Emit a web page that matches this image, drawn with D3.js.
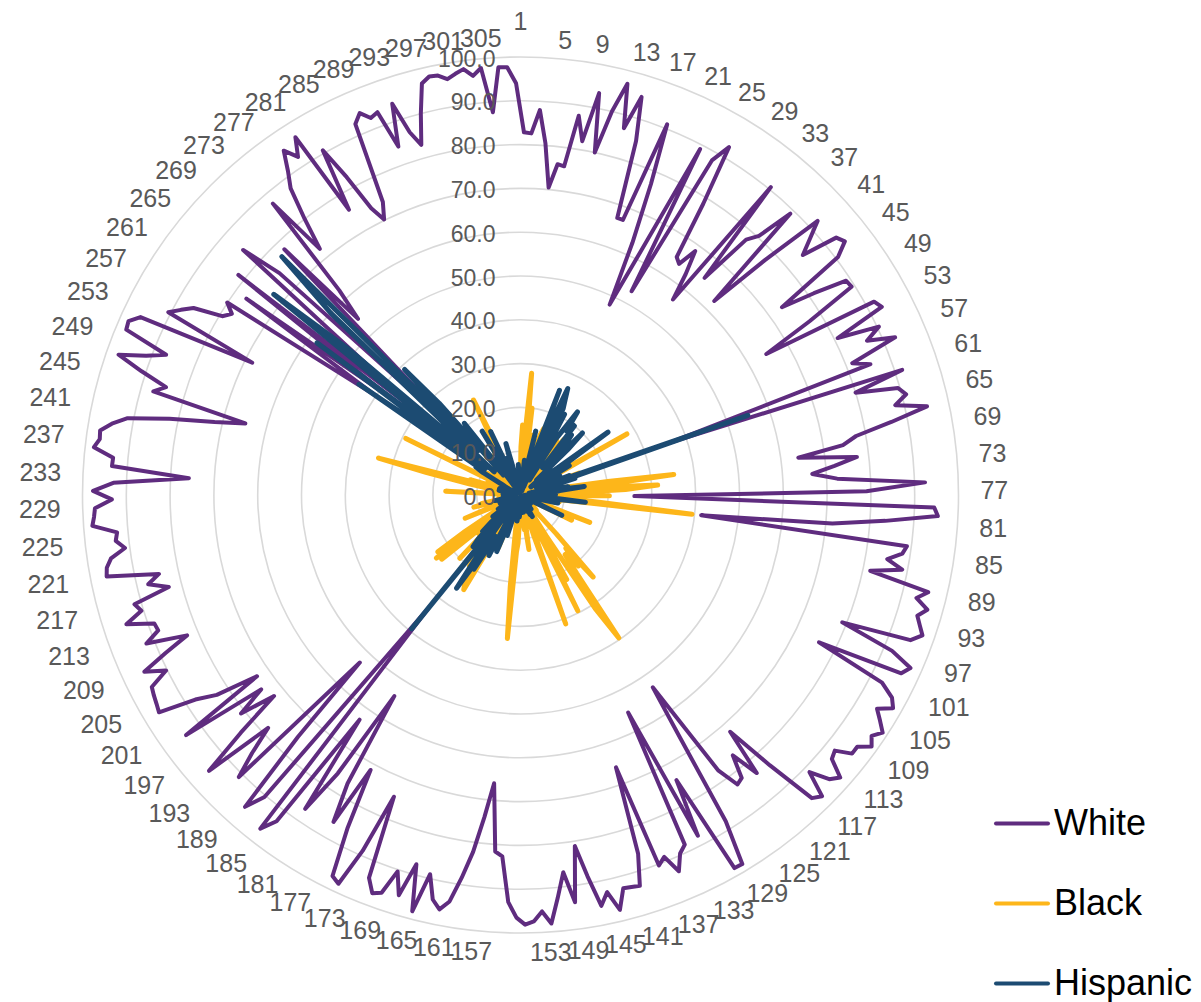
<!DOCTYPE html>
<html>
<head>
<meta charset="utf-8">
<script src="https://cdnjs.cloudflare.com/ajax/libs/d3/7.8.5/d3.min.js"></script>
<style>
  html, body { margin: 0; padding: 0; background: #fff; }
  svg { display: block; font-family: "Liberation Sans", Arial, sans-serif; }
</style>
</head>
<body>
<main></main>
<script>
const white = [
  82.8,82.6,88,80.5,70.5,76,75.7,87.6,82,93.5,
  80,90,97,87,95,85,67,67,91,77,
  63,48,62,89,53,88,92.6,78.5,65,64,
  68.5,63,56.6,90.6,65,77.8,80.4,89,62.6,77.4,
  92.3,88.3,84.6,93,94,90.6,73.5,81.3,89,89.3,
  77,64.7,92,93,80.8,90.4,86.6,92.8,81.5,85.3,
  36,91.7,80,89.6,91,88,95,86.3,77.8,74.5,
  64,77.3,72,66.8,72.4,92.4,79,26,94.5,95.4,
  83.5,71.5,41.5,89,88.2,85,88.8,81.7,95.7,93.4,
  96.5,94.7,95.9,97.2,95,79,92,97.4,96,76,
  93,96.6,98,94.9,96.9,98.9,97.2,98.6,96,96,
  92.5,93.2,97.4,95.8,91.4,97.3,96,84,72.2,83.3,
  76.7,82,82.6,77.5,53.3,66,88,98.3,98.2,74.2,
  87.7,55.4,88.2,89.6,93.2,88.9,90.3,65.9,86.2,93.3,
  93,92.8,97.4,92.8,95.6,88.4,81.1,93.8,86.7,92.3,
  98.1,95.2,97.4,98.1,96.5,93,82.6,81.6,66.1,74,
  82.2,88.4,94.2,96.4,94.5,89,98.2,87.6,95.5,90.4,
  96.2,97,94,74.7,88.9,98,97,85.8,71.5,86,
  76.8,54.2,76,86.9,63.1,93,96.6,33,90.4,95,
  75,53,91,85,78.4,95,83.8,72.6,81,74,
  94,73,83,87.7,96.3,95.8,95.4,94.9,90.3,94.9,
  88.7,82.6,91.9,88.3,88.6,94.7,90.5,91.6,83,87.4,
  84.5,96.3,95.9,94.6,91.1,93,92.5,98,97.5,97.2,
  93.3,97.6,93,75.8,93.5,93.4,98,96.9,97.1,94.7,
  91.4,82,71.8,64.9,87.1,84.6,91,97.2,91.2,87,
  97.6,97.9,95.8,68.3,90.6,88.3,86,79.4,77.8,80.1,
  40,77,38,81.7,25,45,84.5,74.8,30,20,
  77.8,54.7,62.4,87.3,72.5,80,87.5,91,95.4,92.4,
  96.5,76,90.7,82.7,73.8,70.2,73.9,92.7,94.6,92.6,
  93.3,84.3,94,86.6,83.1,90,96.6,97.8,97.6,96.4,
  97.3,98.1,96.3,97.9,87.6,97.8,97.7,94
];
const black = [
  11,16,6,13,27.9,14,20,9,12,4,
  14,4,1,7,3,14.4,16,6,5,8,
  8,13,14,3,14,3,3,7,15,11,
  10,13,16,2,14,4,6,3,14,7,
  2,2,5,2,2,2,1,5,3,3,
  8,28,2,2,7,3,3,2,5,14.3,
  8,2,6,3,3,4,2,6,10,20.2,
  35.3,14,20,31.4,24,4,12,20.3,2,2,
  9,18,39.4,5,7,9,6,8,2,4,
  2,2,2,1,2,17,5,1,2,13,
  2,2,1,2,1,0.5,1,0.5,2,1,
  4,3,1,2,5,1,2,12,25,16,
  20.9,17,17,22,39.6,31,11,1,1,22,
  9,29.5,8,7,5,7,6,31.2,10,4,
  4,5,1,4,2,7,12.6,4,8,5,
  1,3,1,1,2,4,11,13,32.9,21,
  10,6,2,2,3,5,1,6,2,2,
  2,2,2,13,4,1,1,1,13,5,
  25.2,24,12,5,20,4,2,20,3,2,
  7,20,4,6,13,2,8,23.2,20,24,
  8,22.9,15,6,1,2,2,2,5,2,
  6,13.7,4,7,6,3,5,5,11,7,
  9,2,2,3,5,3,3,1,1,1,
  3,1,3,17.1,3,3,1,2,2,3,
  5,12,22,33.5,8,12,5,1,5,8,
  1,1,2,29.2,5,7,8,10,10,9,
  5,8,3,7,2,3,7,9,6,2,
  7,4,9,6,8,1,5,3,2,3,
  1,7,3,6,13,24.2,9,4,3,4,
  3,6,3,6,5,5,2,1,1,2,
  1,1,2,1,4,1,1,3
];
const hispanic = [
  5,1,3,5,1,8,3,2,4,1,
  5,15,1,4,1,1,12,25.5,2,16,
  26.6,24,22,9,21,10,4,15,18,23,
  18,20,20,8,18,16,14,9,20,15,
  5,8,9,4,3,6,24.6,12,7,6,
  13,6,5,4,10,5,9,4,12,8,
  55,5,13,6,5,7,2,6,11,8,
  14.7,9,8,2,6,3,8,6,2,1,
  6,7,14.9,4,3,4,3,8.7,2,1,
  1,2,1,1,2,3,2,1,1,10.5,
  4,1,0.5,2,1,0.5,1,0.5,1,2,
  2,3,1,2,3,1,1,3,2,3,
  2,1,4,3,4,3,3,0.5,0.5,5.6,
  2,5,3,2,1,4,2,2,3,2,
  2,2,1,2,1,3,4,1,4,2,
  0.5,1,1,0.5,1,2,5,4,1,4,
  6,5,3,1,2,5,1,5,2,9.7,
  2,1,3,14,11,1,1,15.6,14,12,
  11,20,17,25.8,16,5,1,39.4,7,5,
  16,14,9,12,9,3,8,3,8,2,
  4,3,6,6,2,2,2,3,4,3,
  5,3,4,4,5,2,4,3,5,5,
  6,2,2,2,3,3,4,1,1,1,
  3,1,3,4,3,3,1,1,1,2,
  3,5,4,1,4,5,3,1,3,4,
  1,1,2,1,3,4,5,10,12,10,
  44.7,14,58,10,72.6,52,8,15,60,77,
  14,39,28,6,18,20.8,7,5,2,4,
  2,17,5,10,12,3,16,3,2,3,
  3,9,3,7,12.2,5,1,1,1,1,
  1,0.5,1,0.5,7,0.5,0.5,2
];
const categoryTicks = d3.range(1, 306, 4);
const radialTicks = d3.range(0, 101, 10);
const seriesNames = ["White", "Black", "Hispanic"];
const seriesColors = ["#5f2c7f", "#fdb61a", "#1c4b72"];

const svgSize = { width: 1201, height: 1002 };
const center = { x: 520.5, y: 495 };
const outerRadius = 438;
const turn = 0.0096; // the source plot sits about half a degree clockwise

const svg = d3.select("main").append("svg")
  .attr("width", svgSize.width)
  .attr("height", svgSize.height);

const rScale = d3.scaleLinear().domain([0, 100]).range([0, outerRadius]);
const angleScale = d3.scaleLinear().domain([0, white.length]).range([turn, turn + 2 * Math.PI]);
const labelAngle = d3.scaleLinear().domain([0, 306]).range([0, 2 * Math.PI]);

const chart = svg.append("g").attr("transform", `translate(${center.x},${center.y})`);

// rings
chart.selectAll("circle.ring").data(radialTicks.slice(1)).enter()
  .append("circle")
  .attr("class", "ring")
  .attr("r", d => rScale(d))
  .attr("fill", "none")
  .attr("stroke", "#d9d9d9")
  .attr("stroke-width", 1.6);

// series, white first so that hispanic ends up on top
const radial = d3.lineRadial()
  .angle((d, i) => angleScale(i))
  .radius(d => rScale(d))
  .curve(d3.curveLinearClosed);

[white, black, hispanic].forEach((values, k) => {
  chart.append("path")
    .datum(values)
    .attr("d", radial)
    .attr("fill", "none")
    .attr("stroke", seriesColors[k])
    .attr("stroke-width", k === 0 ? 4 : 5)
    .attr("stroke-linejoin", "round")
    .attr("stroke-linecap", "round");
});

// radial axis labels
chart.selectAll("text.rtick").data(radialTicks).enter()
  .append("text")
  .attr("class", "rtick")
  .attr("x", -25)
  .attr("y", d => -rScale(d))
  .attr("dy", "0.42em")
  .attr("text-anchor", "end")
  .attr("font-size", 23)
  .attr("fill", "#595959")
  .text(d => d.toFixed(1));

// category labels
chart.selectAll("text.cat").data(categoryTicks).enter()
  .append("text")
  .attr("class", "cat")
  .attr("x", d => d === 1 ? 0 : Math.sin(labelAngle(d - 1)) * 460)
  .attr("y", d => d === 1 ? -474 : -Math.cos(labelAngle(d - 1)) * 457)
  .attr("dy", "0.36em")
  .attr("text-anchor", d => d === 1 ? "middle" : (labelAngle(d - 1) < Math.PI ? "start" : "end"))
  .attr("font-size", 25)
  .attr("fill", "#595959")
  .text(d => d);

// legend
const legendY = d3.scalePoint().domain(seriesNames).range([823.5, 983.5]);
const legend = svg.selectAll("g.legend").data(seriesNames).enter()
  .append("g")
  .attr("class", "legend")
  .attr("transform", d => `translate(0,${legendY(d)})`);

legend.append("line")
  .attr("x1", 996).attr("x2", 1048)
  .attr("stroke", (d, i) => seriesColors[i])
  .attr("stroke-width", 4)
  .attr("stroke-linecap", "round");

legend.append("text")
  .attr("x", 1054)
  .attr("dy", 11)
  .attr("font-size", 36)
  .attr("fill", "#000")
  .text(d => d);
</script>
</body>
</html>
